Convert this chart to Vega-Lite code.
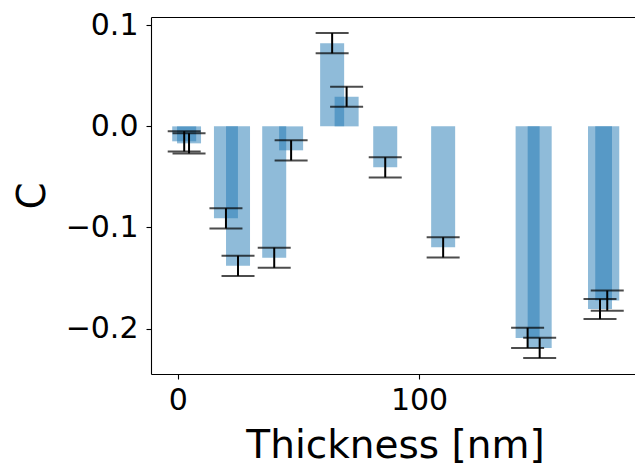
{
  "$schema": "https://vega.github.io/schema/vega-lite/v6.json",
  "autosize": {"type": "none"},
  "padding": {"left": 151, "top": 17, "right": 0, "bottom": 92},
  "width": 484,
  "height": 357,
  "config": {
    "view": {"stroke": null},
    "font": "DejaVu Sans",
    "scale": {"continuousPadding": 0},
    "axis": {
      "labelFont": "DejaVu Sans",
      "titleFont": "DejaVu Sans",
      "labelColor": "black",
      "titleColor": "black",
      "domainColor": "black",
      "tickColor": "black",
      "domainWidth": 1.1,
      "tickWidth": 1.1,
      "tickSize": 5,
      "grid": false,
      "labelFontSize": 30,
      "titleFontSize": 39,
      "titleFontWeight": "normal"
    }
  },
  "data": {
    "values": [
      {"t": 2.7, "c": -0.0148, "err": 0.01},
      {"t": 4.7, "c": -0.0168, "err": 0.01},
      {"t": 20, "c": -0.091, "err": 0.01},
      {"t": 25, "c": -0.138, "err": 0.01},
      {"t": 40, "c": -0.130, "err": 0.01},
      {"t": 47, "c": -0.0237, "err": 0.01},
      {"t": 64, "c": 0.0823, "err": 0.01},
      {"t": 70, "c": 0.0293, "err": 0.01},
      {"t": 86, "c": -0.0405, "err": 0.01},
      {"t": 110, "c": -0.1197, "err": 0.01},
      {"t": 145, "c": -0.2093, "err": 0.01},
      {"t": 150, "c": -0.2192, "err": 0.01},
      {"t": 175, "c": -0.1807, "err": 0.01},
      {"t": 178, "c": -0.1724, "err": 0.01}
    ]
  },
  "resolve": {"axis": {"x": "independent"}},
  "layer": [
    {
      "mark": {"type": "bar", "width": 24, "color": "#1f77b4", "opacity": 0.5},
      "encoding": {
        "x": {
          "field": "t", "type": "quantitative",
          "scale": {"domain": [-11.06, 189.5], "nice": false, "zero": false, "padding": 0},
          "axis": {
            "orient": "bottom",
            "values": [0, 100],
            "format": "d",
            "labelPadding": 6,
            "title": "Thickness [nm]",
            "titleX": 244,
            "titleY": 83,
            "titleAlign": "center",
            "titleBaseline": "alphabetic"
          }
        },
        "y": {
          "field": "c", "type": "quantitative",
          "title": "C",
          "scale": {"domain": [-0.245, 0.1082], "nice": false, "padding": 0},
          "axis": {
            "values": [-0.2, -0.1, 0, 0.1],
            "format": ".1f",
            "labelPadding": 8,
            "title": "C",
            "titleX": -106.5,
            "titleY": 178.5,
            "titleAngle": -90,
            "titleAlign": "center",
            "titleBaseline": "alphabetic"
          }
        }
      }
    },
    {
      "mark": {"type": "errorbar", "ticks": {"size": 33, "color": "black"}, "color": "black", "thickness": 2},
      "encoding": {
        "x": {
          "field": "t", "type": "quantitative",
          "axis": {"orient": "top", "labels": false, "ticks": false, "title": null, "domain": true}
        },
        "y": {"field": "c", "type": "quantitative", "title": "C"},
        "yError": {"field": "err"}
      }
    }
  ]
}
